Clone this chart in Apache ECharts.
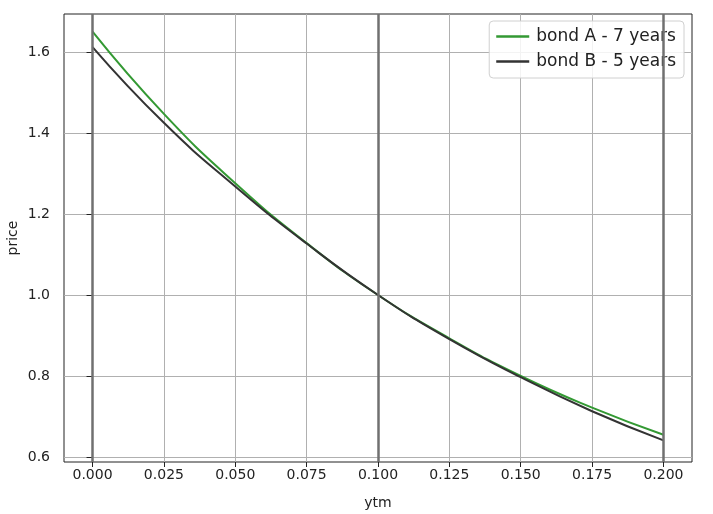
<!DOCTYPE html>
<html>
<head>
<meta charset="utf-8">
<script src="https://cdn.jsdelivr.net/npm/echarts@6/dist/echarts.min.js"></script>
<style>html,body{margin:0;padding:0;background:#fff}#c{width:713px;height:514px}</style>
</head>
<body>
<div id="c"></div>
<script>
var ytm = [0, 0.025, 0.05, 0.075, 0.1, 0.125, 0.15, 0.175, 0.2];
var bondA = [1.650, 1.447, 1.276, 1.128, 1.000, 0.893, 0.800, 0.722, 0.655];
var bondB = [1.612, 1.425, 1.268, 1.127, 1.000, 0.891, 0.797, 0.713, 0.641];
var xTicks = [0, 0.025, 0.05, 0.075, 0.1, 0.125, 0.15, 0.175, 0.2];
var yTicks = [0.6, 0.8, 1.0, 1.2, 1.4, 1.6];
var vLines = [0, 0.1, 0.2];
var names = ['bond A - 7 years', 'bond B - 5 years'];

function pairs(xs, ys){ return xs.map(function(x,i){ return [x, ys[i]]; }); }

var font = 'DejaVu Sans';
var chart = echarts.init(document.getElementById('c'), null, {renderer:'canvas'});
chart.setOption({
  animation: false,
  backgroundColor: '#fff',
  grid: {left: 64, right: 21, top: 14, bottom: 52, containLabel: false, outerBoundsMode: 'none',
    show: true, borderColor: '#222', borderWidth: 1, backgroundColor: 'transparent'},
  legend: {
    orient: 'vertical', right: 29, top: 21,
    data: names,
    icon: 'rect', itemWidth: 33, itemHeight: 2.5, itemGap: 8,
    padding: [7, 8, 8, 7],
    borderColor: '#d0d0d0', borderWidth: 1, borderRadius: 4,
    backgroundColor: 'rgba(255,255,255,0.85)',
    textStyle: {fontFamily: font, fontSize: 17, color: '#222', padding: [0,0,0,2]}
  },
  xAxis: {
    type: 'value', min: -0.01, max: 0.21,
    name: 'ytm', nameLocation: 'middle', nameGap: 34, nameMoveOverlap: false,
    nameTextStyle: {fontFamily: font, fontSize: 14, color: '#222'},
    axisLine: {show: false},
    axisTick: {show: true, length: 5, lineStyle: {color: '#222'}, customValues: xTicks},
    axisLabel: {fontFamily: font, fontSize: 14, color: '#222', margin: 6, customValues: xTicks,
      formatter: function(v){ return v.toFixed(3); }},
    splitLine: {show: true, lineStyle: {color: '#b0b0b0', width: 1}}
  },
  yAxis: {
    type: 'value', min: 0.5877, max: 1.6937,
    name: 'price', nameLocation: 'middle', nameGap: 44, nameMoveOverlap: false,
    nameTextStyle: {fontFamily: font, fontSize: 14, color: '#222'},
    axisLine: {show: false},
    axisTick: {show: true, length: 6, lineStyle: {color: '#222'}, customValues: yTicks},
    axisLabel: {fontFamily: font, fontSize: 14, color: '#222', margin: 14, customValues: yTicks,
      formatter: function(v){ return v.toFixed(1); }},
    splitLine: {show: true, lineStyle: {color: '#b0b0b0', width: 1}}
  },
  series: [
    {
      name: names[0], type: 'line', data: pairs(ytm, bondA), smooth: true,
      showSymbol: false, symbol: 'none', z: 3,
      lineStyle: {color: '#339933', width: 2}, itemStyle: {color: '#339933'},
      markLine: {
        silent: true, symbol: 'none', label: {show: false},
        lineStyle: {color: '#707070', width: 2.5, type: 'solid'},
        data: vLines.map(function(v){ return {xAxis: v}; })
      }
    },
    {
      name: names[1], type: 'line', data: pairs(ytm, bondB), smooth: true,
      showSymbol: false, symbol: 'none', z: 4,
      lineStyle: {color: '#333333', width: 2}, itemStyle: {color: '#333333'}
    }
  ]
});
</script>
</body>
</html>
